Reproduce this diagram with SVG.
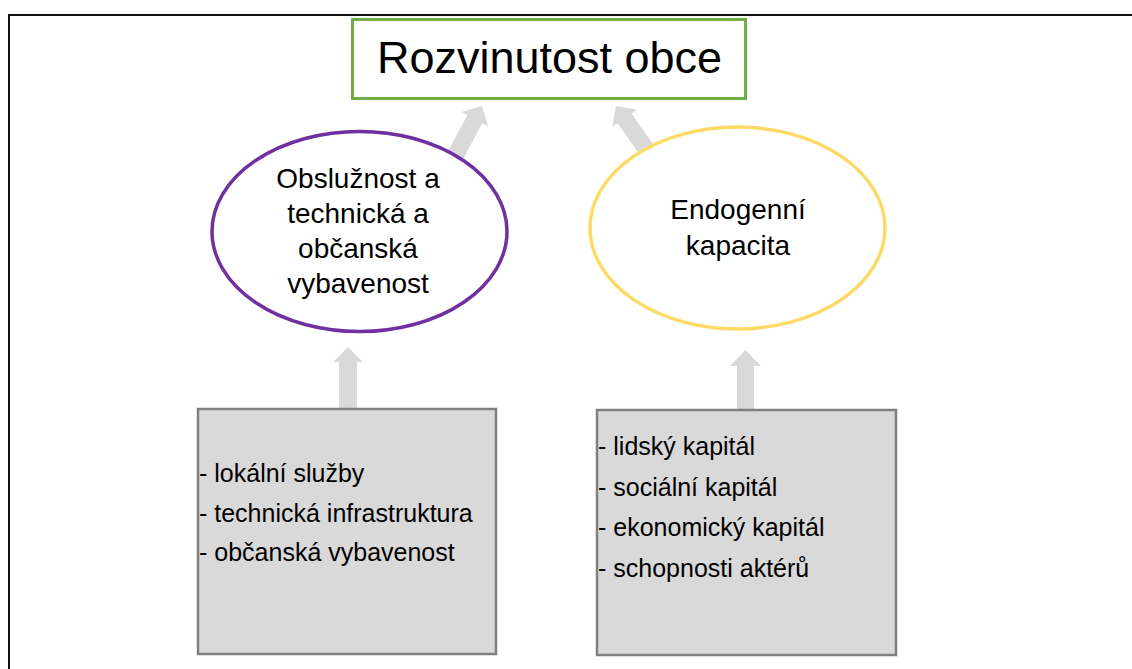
<svg xmlns="http://www.w3.org/2000/svg" width="1132" height="669" viewBox="0 0 1132 669">
  <defs>
    <style>
      text { font-family: "Liberation Sans", Arial, sans-serif; fill: #000; }
      .title { font-size: 45px; text-anchor: middle; }
      .oval { font-size: 28px; text-anchor: middle; }
      .item { font-size: 25px; }
      .arrow { fill: #D9D9D9; stroke: none; }
      .box { fill: #D9D9D9; stroke: #808080; stroke-width: 2.5; }
    </style>
    <polygon id="blockArrow" points="0,0 15,15 8.5,15 8.5,80 -8.5,80 -8.5,15 -15,15"/>
  </defs>
  <rect width="1132" height="669" fill="#fff"/>
  <rect x="9" y="15" width="1200" height="700" fill="none" stroke="#111" stroke-width="2"/>

  <g id="connectors">
    <use href="#blockArrow" class="arrow" transform="translate(482,106) rotate(28.4)"/>
    <use href="#blockArrow" class="arrow" transform="translate(616,106) rotate(-35)"/>
    <polygon class="arrow" points="348,347 363,362 357,362 357,409 339,409 339,362 333,362"/>
    <polygon class="arrow" points="745.5,350 761,366 754,366 754,410 737,410 737,366 730,366"/>
  </g>

  <g id="node-rozvinutost">
    <rect x="352.5" y="19.5" width="393" height="79" fill="#fff" stroke="#70AD47" stroke-width="3"/>
    <text class="title" x="549.5" y="73">Rozvinutost obce</text>
  </g>

  <g id="node-obsluznost">
    <ellipse cx="359.5" cy="231.5" rx="147.5" ry="100" fill="#fff" stroke="#7030A0" stroke-width="3.5"/>
    <text class="oval" x="358" y="188">Obslužnost a</text>
    <text class="oval" x="358" y="223">technická a</text>
    <text class="oval" x="358" y="258">občanská</text>
    <text class="oval" x="358" y="293">vybavenost</text>
  </g>

  <g id="node-endogenni">
    <ellipse cx="737.5" cy="228" rx="147.5" ry="101" fill="#fff" stroke="#FFD966" stroke-width="3.5"/>
    <text class="oval" x="738" y="219">Endogenní</text>
    <text class="oval" x="738" y="255">kapacita</text>
  </g>

  <g id="node-sluzby">
    <rect class="box" x="198" y="409" width="298" height="245"/>
    <text class="item" x="199" y="482">- lokální služby</text>
    <text class="item" x="199" y="522">- technická infrastruktura</text>
    <text class="item" x="199" y="561">- občanská vybavenost</text>
  </g>

  <g id="node-kapital">
    <rect class="box" x="597" y="410" width="299" height="245"/>
    <text class="item" x="598" y="455">- lidský kapitál</text>
    <text class="item" x="598" y="496">- sociální kapitál</text>
    <text class="item" x="598" y="536">- ekonomický kapitál</text>
    <text class="item" x="598" y="577">- schopnosti aktérů</text>
  </g>
</svg>
